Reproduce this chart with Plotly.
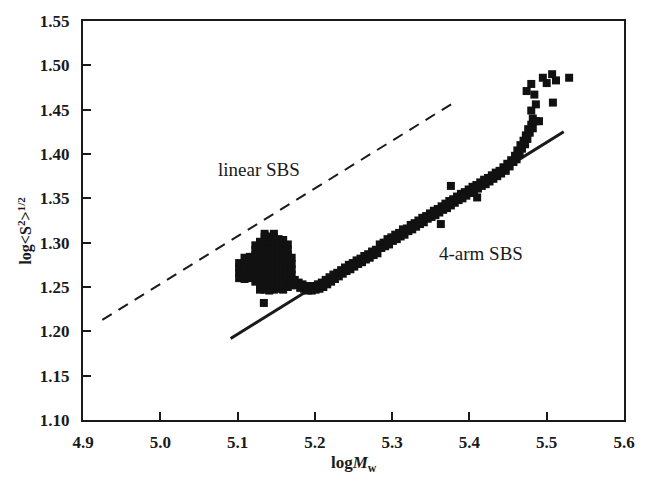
import plotly.graph_objects as go

# Reference slopes: linear SBS (dashed) and 4-arm SBS (solid)
linear_x = [4.925, 5.378]
linear_y = [1.213, 1.457]
star_x = [5.091, 5.522]
star_y = [1.192, 1.425]

# Measured points: low-mass cluster
blob_x = [5.102, 5.102, 5.102, 5.102,
          5.109, 5.109, 5.109, 5.109, 5.109,
          5.116, 5.116, 5.116, 5.116, 5.116,
          5.123, 5.123, 5.123, 5.123, 5.123, 5.123, 5.123, 5.123,
          5.129, 5.129, 5.129, 5.129, 5.129, 5.129, 5.129, 5.129, 5.129, 5.129,
          5.135, 5.135, 5.135, 5.135, 5.135, 5.135, 5.135, 5.135, 5.135, 5.135, 5.135, 5.135,
          5.141, 5.141, 5.141, 5.141, 5.141, 5.141, 5.141, 5.141, 5.141, 5.141, 5.141,
          5.147, 5.147, 5.147, 5.147, 5.147, 5.147, 5.147, 5.147, 5.147, 5.147, 5.147, 5.147,
          5.153, 5.153, 5.153, 5.153, 5.153, 5.153, 5.153, 5.153, 5.153, 5.153, 5.153,
          5.159, 5.159, 5.159, 5.159, 5.159, 5.159, 5.159, 5.159, 5.159, 5.159,
          5.165, 5.165, 5.165, 5.165, 5.165, 5.165, 5.165, 5.165, 5.165,
          5.170, 5.170, 5.170, 5.170, 5.170, 5.170,
          5.134]
blob_y = [1.260, 1.266, 1.272, 1.277,
          1.259, 1.265, 1.271, 1.277, 1.283,
          1.260, 1.266, 1.272, 1.279, 1.284,
          1.256, 1.262, 1.268, 1.274, 1.280, 1.286, 1.292, 1.297,
          1.247, 1.253, 1.259, 1.265, 1.271, 1.277, 1.283, 1.289, 1.295, 1.301,
          1.247, 1.252, 1.258, 1.264, 1.270, 1.276, 1.282, 1.288, 1.294, 1.300, 1.306, 1.310,
          1.246, 1.253, 1.259, 1.265, 1.271, 1.277, 1.283, 1.289, 1.295, 1.301, 1.307,
          1.247, 1.252, 1.258, 1.264, 1.270, 1.276, 1.282, 1.288, 1.294, 1.300, 1.306, 1.310,
          1.248, 1.254, 1.260, 1.266, 1.272, 1.278, 1.284, 1.290, 1.296, 1.302, 1.304,
          1.247, 1.253, 1.259, 1.265, 1.271, 1.277, 1.283, 1.289, 1.295, 1.303,
          1.250, 1.256, 1.262, 1.268, 1.274, 1.280, 1.286, 1.292, 1.298,
          1.252, 1.258, 1.264, 1.270, 1.276, 1.283,
          1.232]

# Measured points: main band
band_x = [5.174, 5.176, 5.179, 5.181, 5.184, 5.186, 5.189, 5.191, 5.194, 5.196,
          5.199, 5.201, 5.204, 5.206, 5.209, 5.211, 5.214, 5.216, 5.219, 5.221,
          5.224, 5.226, 5.229, 5.231, 5.234, 5.236, 5.239, 5.241, 5.244, 5.246,
          5.249, 5.251, 5.254, 5.256, 5.259, 5.261, 5.264, 5.266, 5.269, 5.271,
          5.274, 5.276, 5.279, 5.281, 5.284, 5.286, 5.289, 5.291, 5.294, 5.296,
          5.299, 5.301, 5.304, 5.306, 5.309, 5.311, 5.314, 5.316, 5.319, 5.321,
          5.324, 5.326, 5.329, 5.331, 5.334, 5.336, 5.339, 5.341, 5.344, 5.346,
          5.349, 5.351, 5.354, 5.356, 5.359, 5.361, 5.364, 5.366, 5.369, 5.371,
          5.374, 5.376, 5.379, 5.381, 5.384, 5.386, 5.389, 5.391, 5.394, 5.396,
          5.399, 5.401, 5.404, 5.406, 5.409, 5.411, 5.414, 5.416, 5.419, 5.421,
          5.424, 5.426, 5.429, 5.431, 5.434, 5.436, 5.439, 5.441,
          5.376, 5.363, 5.410]
band_y = [1.258, 1.252, 1.255, 1.249, 1.253, 1.248, 1.251, 1.246, 1.251, 1.246,
          1.251, 1.247, 1.253, 1.248, 1.255, 1.250, 1.258, 1.253, 1.261, 1.256,
          1.264, 1.259, 1.266, 1.262, 1.269, 1.265, 1.272, 1.268, 1.275, 1.270,
          1.277, 1.273, 1.280, 1.276, 1.282, 1.278, 1.285, 1.281, 1.287, 1.283,
          1.290, 1.286, 1.292, 1.288, 1.298, 1.294, 1.300, 1.296, 1.304, 1.298,
          1.306, 1.302, 1.309, 1.304, 1.311, 1.307, 1.315, 1.309, 1.316, 1.313,
          1.320, 1.315, 1.322, 1.318, 1.325, 1.321, 1.328, 1.323, 1.330, 1.327,
          1.333, 1.329, 1.336, 1.331, 1.338, 1.334, 1.341, 1.337, 1.344, 1.339,
          1.347, 1.342, 1.349, 1.345, 1.352, 1.348, 1.355, 1.350, 1.357, 1.353,
          1.360, 1.356, 1.363, 1.358, 1.365, 1.361, 1.368, 1.364, 1.371, 1.366,
          1.373, 1.369, 1.376, 1.372, 1.379, 1.375, 1.381, 1.378,
          1.364, 1.321, 1.351]

# Measured points: high-mass upturn
tail_x = [5.444, 5.447, 5.449, 5.452, 5.454, 5.457, 5.459, 5.461, 5.462, 5.465,
          5.466, 5.468, 5.470, 5.472, 5.473, 5.475, 5.476, 5.478, 5.480, 5.482,
          5.482, 5.486, 5.480, 5.486, 5.484, 5.474, 5.480, 5.490, 5.495, 5.500,
          5.507, 5.512, 5.508, 5.529]
tail_y = [1.385, 1.381, 1.389, 1.386, 1.393, 1.391, 1.398, 1.394, 1.404, 1.400,
          1.410, 1.406, 1.415, 1.411, 1.421, 1.417, 1.428, 1.424, 1.433, 1.429,
          1.440, 1.437, 1.449, 1.456, 1.467, 1.471, 1.479, 1.437, 1.486, 1.480,
          1.490, 1.483, 1.458, 1.486]

x_ticks = [4.9, 5.0, 5.1, 5.2, 5.3, 5.4, 5.5, 5.6]
y_ticks = [1.10, 1.15, 1.20, 1.25, 1.30, 1.35, 1.40, 1.45, 1.50, 1.55]

serif = "Liberation Serif, Times New Roman, serif"
ink = "#1a1a1a"

fig = go.Figure()
fig.add_trace(go.Scatter(x=linear_x, y=linear_y, mode="lines",
                         line=dict(color=ink, width=2, dash="11px,8px"),
                         showlegend=False, hoverinfo="skip"))
fig.add_trace(go.Scatter(x=star_x, y=star_y, mode="lines",
                         line=dict(color=ink, width=3),
                         showlegend=False, hoverinfo="skip"))
fig.add_trace(go.Scatter(x=blob_x + band_x + tail_x, y=blob_y + band_y + tail_y,
                         mode="markers",
                         marker=dict(symbol="square", size=8, color="#111111",
                                     line=dict(width=0)),
                         showlegend=False))

fig.add_annotation(x=5.128, y=1.3824, text="linear SBS", showarrow=False,
                   font=dict(family=serif, size=19, color=ink))
fig.add_annotation(x=5.415, y=1.2875, text="4-arm SBS", showarrow=False,
                   font=dict(family=serif, size=19, color=ink))

# Axis titles
fig.add_annotation(xref="paper", yref="paper", x=0.5, y=-0.11, yanchor="middle",
                   text="<b>log<i>M</i><sub>w</sub></b>", showarrow=False,
                   font=dict(family=serif, size=17, color=ink))
fig.add_annotation(xref="paper", yref="paper", x=-0.107, y=0.475, xanchor="center",
                   yanchor="middle", textangle=-90,
                   text="<b>log&lt;S<sup>2</sup>&gt;<sup>1/2</sup></b>", showarrow=False,
                   font=dict(family=serif, size=16, color=ink))

axis_common = dict(showgrid=False, zeroline=False, showline=True, linecolor=ink,
                   linewidth=2, mirror=True, ticks="inside", ticklen=8, tickwidth=1.5,
                   tickcolor=ink,
                   tickfont=dict(family=serif, size=17, color=ink, weight="bold"))

fig.update_xaxes(range=[4.9, 5.6], tickvals=x_ticks,
                 ticktext=[f"{v:.1f}" for v in x_ticks], ticklabelstandoff=6,
                 **axis_common)
fig.update_yaxes(range=[1.10, 1.55], tickvals=y_ticks,
                 ticktext=[f"{v:.2f}" for v in y_ticks], ticklabelstandoff=8,
                 **axis_common)

fig.update_layout(width=647, height=484, margin=dict(l=83, r=15, t=20, b=64),
                  plot_bgcolor="white", paper_bgcolor="white",
                  font=dict(family=serif, color=ink))

fig.write_html("out.html")
